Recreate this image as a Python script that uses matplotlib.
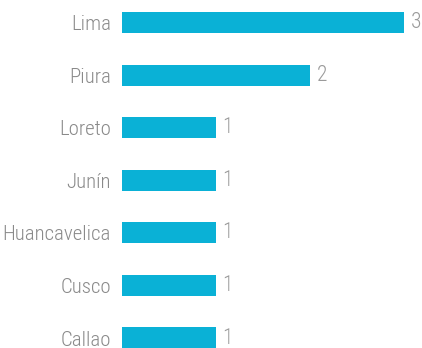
import matplotlib.pyplot as plt

regions = ['Lima', 'Piura', 'Loreto', 'Junín', 'Huancavelica', 'Cusco', 'Callao']
counts = [3, 2, 1, 1, 1, 1, 1]

fonts = ['Roboto Condensed', 'Liberation Sans Narrow', 'Archivo Narrow',
         'Sofia Sans Condensed', 'DejaVu Sans']

fig = plt.figure(figsize=(4.22, 3.48), dpi=100)
ax = fig.add_axes([122 / 422, 0, 282 / 422, 1])

ypos = list(range(len(regions) - 1, -1, -1))
ax.barh(ypos, counts, height=0.4, color='#0AB1D6')
ax.set_xlim(0, 3)
ax.set_ylim(-0.19, 6.43)

for y, v in zip(ypos, counts):
    ax.text(v + 0.07, y, str(v), va='center', ha='left', color='#9a9a9a',
            fontsize=15.5, family=fonts, weight='light', clip_on=False)

ax.set_yticks(ypos)
ax.set_yticklabels(regions, color='#8a8a8a', fontsize=15, family=fonts,
                   weight='light')
ax.tick_params(axis='y', length=0, pad=8)
ax.set_xticks([])
for s in ax.spines.values():
    s.set_visible(False)

fig.savefig('out.png', dpi=100)
